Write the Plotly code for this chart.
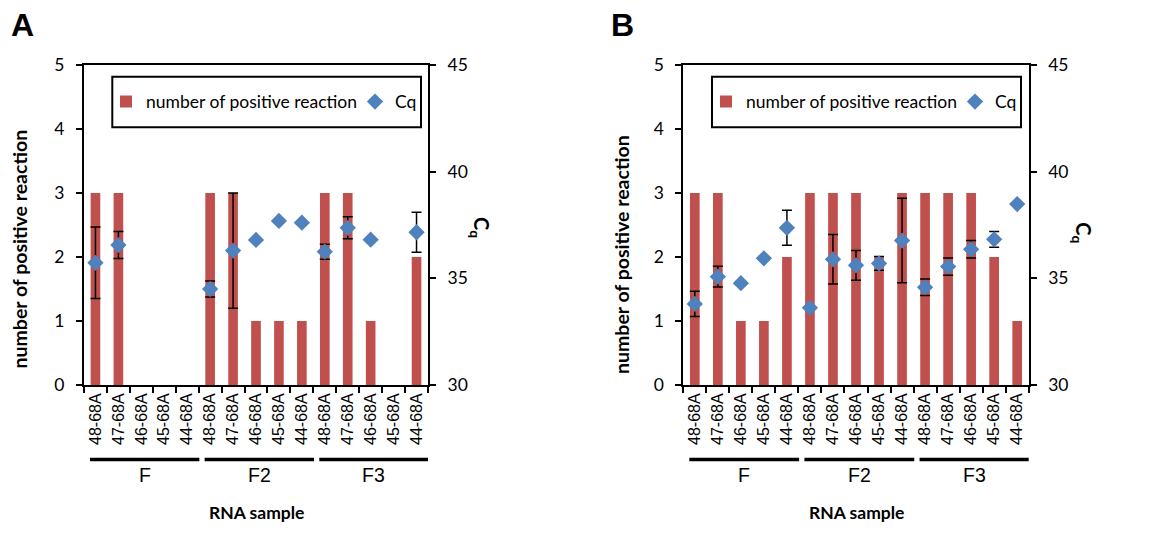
import plotly.graph_objects as go

# ---------------- data ----------------
samples = ["48-68A", "47-68A", "46-68A", "45-68A", "44-68A"]
groups = ["F", "F2", "F3"]

A_positive = [3, 3, 0, 0, 0, 3, 3, 1, 1, 1, 3, 3, 1, 0, 2]
A_cq = [35.73, 36.56, None, None, None, 34.50, 36.30, 36.80, 37.69, 37.61, 36.25, 37.37, 36.81, None, 37.16]
A_err = [1.68, 0.63, None, None, None, 0.37, 2.70, None, None, None, 0.35, 0.52, None, None, 0.94]

B_positive = [3, 3, 1, 1, 2, 3, 3, 3, 2, 3, 3, 3, 3, 2, 1]
B_cq = [33.80, 35.08, 34.77, 35.94, 37.37, 33.62, 35.89, 35.61, 35.70, 36.77, 34.58, 35.55, 36.36, 36.83, 38.48]
B_err = [0.59, 0.49, None, None, 0.82, None, 1.16, 0.70, 0.32, 1.98, 0.39, 0.40, 0.41, 0.37, None]

panel_labels = ["A", "B"]
bar_name = "number of positive reaction"
cq_name = "Cq"
y_title = "number of positive reaction"
y2_title = "C<sub>q</sub>"
x_title = "RNA sample"

# unique category ids, displayed with sample names
cats = [f"{g}|{s}" for g in groups for s in samples]
cat_text = [s for g in groups for s in samples]

RED = "#C0504D"
BLUE = "#4F81BD"
W, H = 1156, 544
NUM_FONT = "Lato"
ARIAL = "Liberation Sans"

fig = go.Figure()

panels = [
    dict(pos=A_positive, cq=A_cq, err=A_err, x="x", y="y", y2="y2", legend="legend"),
    dict(pos=B_positive, cq=B_cq, err=B_err, x="x2", y="y3", y2="y4", legend="legend2"),
]

for p in panels:
    fig.add_trace(go.Bar(
        x=cats, y=p["pos"], name=bar_name, marker=dict(color=RED, line=dict(width=0)),
        xaxis=p["x"], yaxis=p["y"], legend=p["legend"],
    ))
    fig.add_trace(go.Scatter(
        x=cats, y=p["cq"], name=cq_name, mode="markers",
        marker=dict(symbol="diamond", size=12.5, color=BLUE),
        error_y=dict(type="data", array=p["err"], visible=True, color="black", thickness=1.5, width=5),
        xaxis=p["x"], yaxis=p["y2"], legend=p["legend"],
    ))

px2x = lambda px: px / W
px2y = lambda py: (H - py) / H

domains_x = [[px2x(84), px2x(428)], [px2x(683.3), px2x(1028.7)]]
dom_y = [px2y(385), px2y(65)]

xax_common = dict(
    type="category", categoryorder="array", categoryarray=cats,
    tickmode="array", tickvals=cats, ticktext=cat_text, tickangle=-90,
    tickson="boundaries", ticks="outside", ticklen=6, tickwidth=2, tickcolor="black",
    showline=True, linewidth=2, linecolor="black", mirror=True,
    showgrid=False, zeroline=False, range=[-0.5, 14.5],
    tickfont=dict(family=ARIAL, size=16, color="black"), automargin=False,
)
yax_left = dict(
    range=[0, 5], dtick=1, ticks="outside", ticklen=6, tickwidth=2, tickcolor="black",
    showline=True, linewidth=2, linecolor="black", showgrid=False, zeroline=False,
    tickfont=dict(family=NUM_FONT, size=17.5, color="black"), automargin=False,
    ticklabelstandoff=8,
)
yax_right = dict(
    range=[30, 45], dtick=5, ticks="outside", ticklen=6, tickwidth=2, tickcolor="black",
    showline=True, linewidth=2, linecolor="black", showgrid=False, zeroline=False,
    side="right", tickfont=dict(family=NUM_FONT, size=17.5, color="black"), automargin=False,
    ticklabelstandoff=8,
)

fig.update_layout(
    xaxis=dict(domain=domains_x[0], anchor="y", **xax_common),
    yaxis=dict(domain=dom_y, anchor="x", **yax_left),
    yaxis2=dict(overlaying="y", anchor="x", **yax_right),
    xaxis2=dict(domain=domains_x[1], anchor="y3", **xax_common),
    yaxis3=dict(domain=dom_y, anchor="x2", **yax_left),
    yaxis4=dict(overlaying="y3", anchor="x2", **yax_right),
    bargap=0.58,
)

legend_common = dict(
    orientation="h", bgcolor="rgba(0,0,0,0)", borderwidth=0,
    font=dict(family=NUM_FONT, size=17.5, color="black"),
    xanchor="left", yanchor="middle", y=px2y(101.7), itemclick=False,
    entrywidth=204, entrywidthmode="pixels",
)
fig.update_layout(
    legend=dict(x=px2x(106), **legend_common),
    legend2=dict(x=px2x(706), **legend_common),
)

shapes = []
annotations = []
legend_boxes = [(112.3, 421), (712, 1021)]
for i, (xd, (lx0, lx1)) in enumerate(zip(domains_x, legend_boxes)):
    xref = "x" if i == 0 else "x2"
    # legend frame
    shapes.append(dict(type="rect", xref="paper", yref="paper",
                       x0=px2x(lx0), x1=px2x(lx1), y0=px2y(127.3), y1=px2y(76.7),
                       line=dict(color="black", width=2), fillcolor="rgba(0,0,0,0)"))
    # group lines + labels
    for gi, g in enumerate(groups):
        start = gi * len(samples)
        shapes.append(dict(type="line", xref=xref, yref="paper",
                           x0=start - 0.24, x1=start + len(samples) - 0.47,
                           y0=px2y(459.5), y1=px2y(459.5),
                           line=dict(color="black", width=3.5)))
        annotations.append(dict(text=g, xref=xref, yref="paper",
                                x=start + 2.14, y=px2y(475), showarrow=False,
                                xanchor="center", yanchor="middle",
                                font=dict(family=ARIAL, size=19.5, color="black")))
    # x title
    annotations.append(dict(text=f"<b>{x_title}</b>", xref="paper", yref="paper",
                            x=(xd[0] + xd[1]) / 2, y=px2y(512), showarrow=False,
                            xanchor="center", yanchor="middle",
                            font=dict(family=NUM_FONT, size=17.5, color="black")))
    # panel letter
    annotations.append(dict(text=f"<b>{panel_labels[i]}</b>", xref="paper", yref="paper",
                            x=px2x([22, 622][i]), y=px2y(25), showarrow=False,
                            xanchor="center", yanchor="middle",
                            font=dict(family=ARIAL, size=32, color="black")))
    # left y title
    annotations.append(dict(text=f"<b>{y_title}</b>", xref="paper", yref="paper",
                            x=px2x([19, 621][i]), y=px2y([249.5, 255][i]), showarrow=False,
                            textangle=-90, xanchor="center", yanchor="middle",
                            font=dict(family=NUM_FONT, size=19.5, color="black")))
    # right y title
    annotations.append(dict(text=f"<b>{y2_title}</b>", xref="paper", yref="paper",
                            x=px2x([480, 1082.7][i]), y=px2y([227, 233][i]), showarrow=False,
                            textangle=90, xanchor="center", yanchor="middle",
                            font=dict(family=NUM_FONT, size=20, color="black")))

fig.update_layout(
    shapes=shapes, annotations=annotations,
    width=W, height=H, margin=dict(l=0, r=0, t=0, b=0, autoexpand=False),
    paper_bgcolor="white", plot_bgcolor="white", template="none",
    showlegend=True,
)

fig.write_html(
    "out.html",
    config={"displayModeBar": False},
    post_script="document.body.style.margin='0';document.body.style.overflow='hidden';",
)
